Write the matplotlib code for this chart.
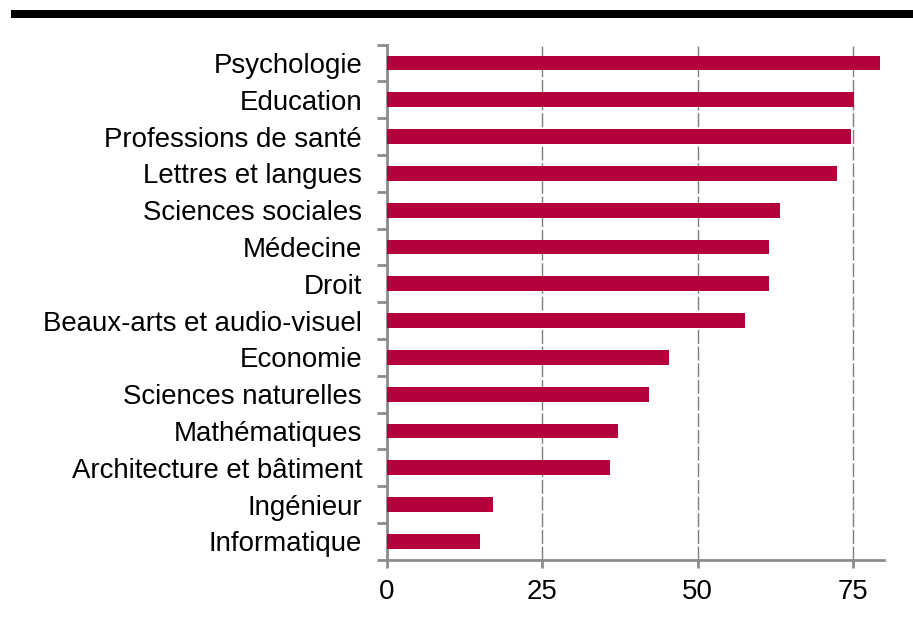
import numpy as np
import matplotlib
matplotlib.use('Agg')
import matplotlib.pyplot as plt
from matplotlib.patches import Rectangle
from matplotlib.ticker import FixedLocator

plt.rcParams['font.family'] = ['Liberation Sans', 'DejaVu Sans']

categories = ['Psychologie', 'Education', 'Professions de santé', 'Lettres et langues',
              'Sciences sociales', 'Médecine', 'Droit', 'Beaux-arts et audio-visuel',
              'Economie', 'Sciences naturelles', 'Mathématiques',
              'Architecture et bâtiment', 'Ingénieur', 'Informatique']
values = [79.4, 75.2, 74.7, 72.5, 63.2, 61.5, 61.5, 57.7, 45.4, 42.1, 37.2, 35.9, 17.1, 15.0]
xticks = [0, 25, 50, 75]

bar_color = '#B4003A'
axis_gray = '#8C8C8C'

fig = plt.figure(figsize=(9.13, 6.24), dpi=100)
ax = fig.add_axes([0.4239, 0.1029, 0.9682 - 0.4239, 0.9285 - 0.1029])

y = np.arange(len(categories))
ax.barh(y, values, height=0.4, color=bar_color, zorder=3)

ax.set_xlim(0, 80)
ax.set_ylim(len(categories) - 0.5, -0.5)

# labels at bar centres, tick marks at the boundaries between bars
ax.set_yticks(y)
ax.set_yticklabels(categories, fontsize=19.9)
ax.tick_params(axis='y', which='major', length=0, pad=18)
ax.yaxis.set_minor_locator(FixedLocator(np.arange(-0.5, len(categories), 1)))
ax.tick_params(axis='y', which='minor', length=7, width=2, color=axis_gray, direction='out')

ax.set_xticks(xticks)
ax.set_xticklabels([str(t) for t in xticks], fontsize=19.9)
ax.tick_params(axis='x', length=6, width=2, color=axis_gray, pad=8)

ax.xaxis.grid(True, color='#7F7F7F', linestyle=(0, (10, 2)), linewidth=1)
ax.set_axisbelow(True)

for side in ['top', 'right']:
    ax.spines[side].set_visible(False)
for side in ['left', 'bottom']:
    ax.spines[side].set_color(axis_gray)
    ax.spines[side].set_linewidth(2)

# thick black rule across the top
fig.add_artist(Rectangle((11 / 913, 1 - 18 / 624), 1, 8 / 624, transform=fig.transFigure,
                         color='black', lw=0))

fig.savefig('out.png', dpi=100)
